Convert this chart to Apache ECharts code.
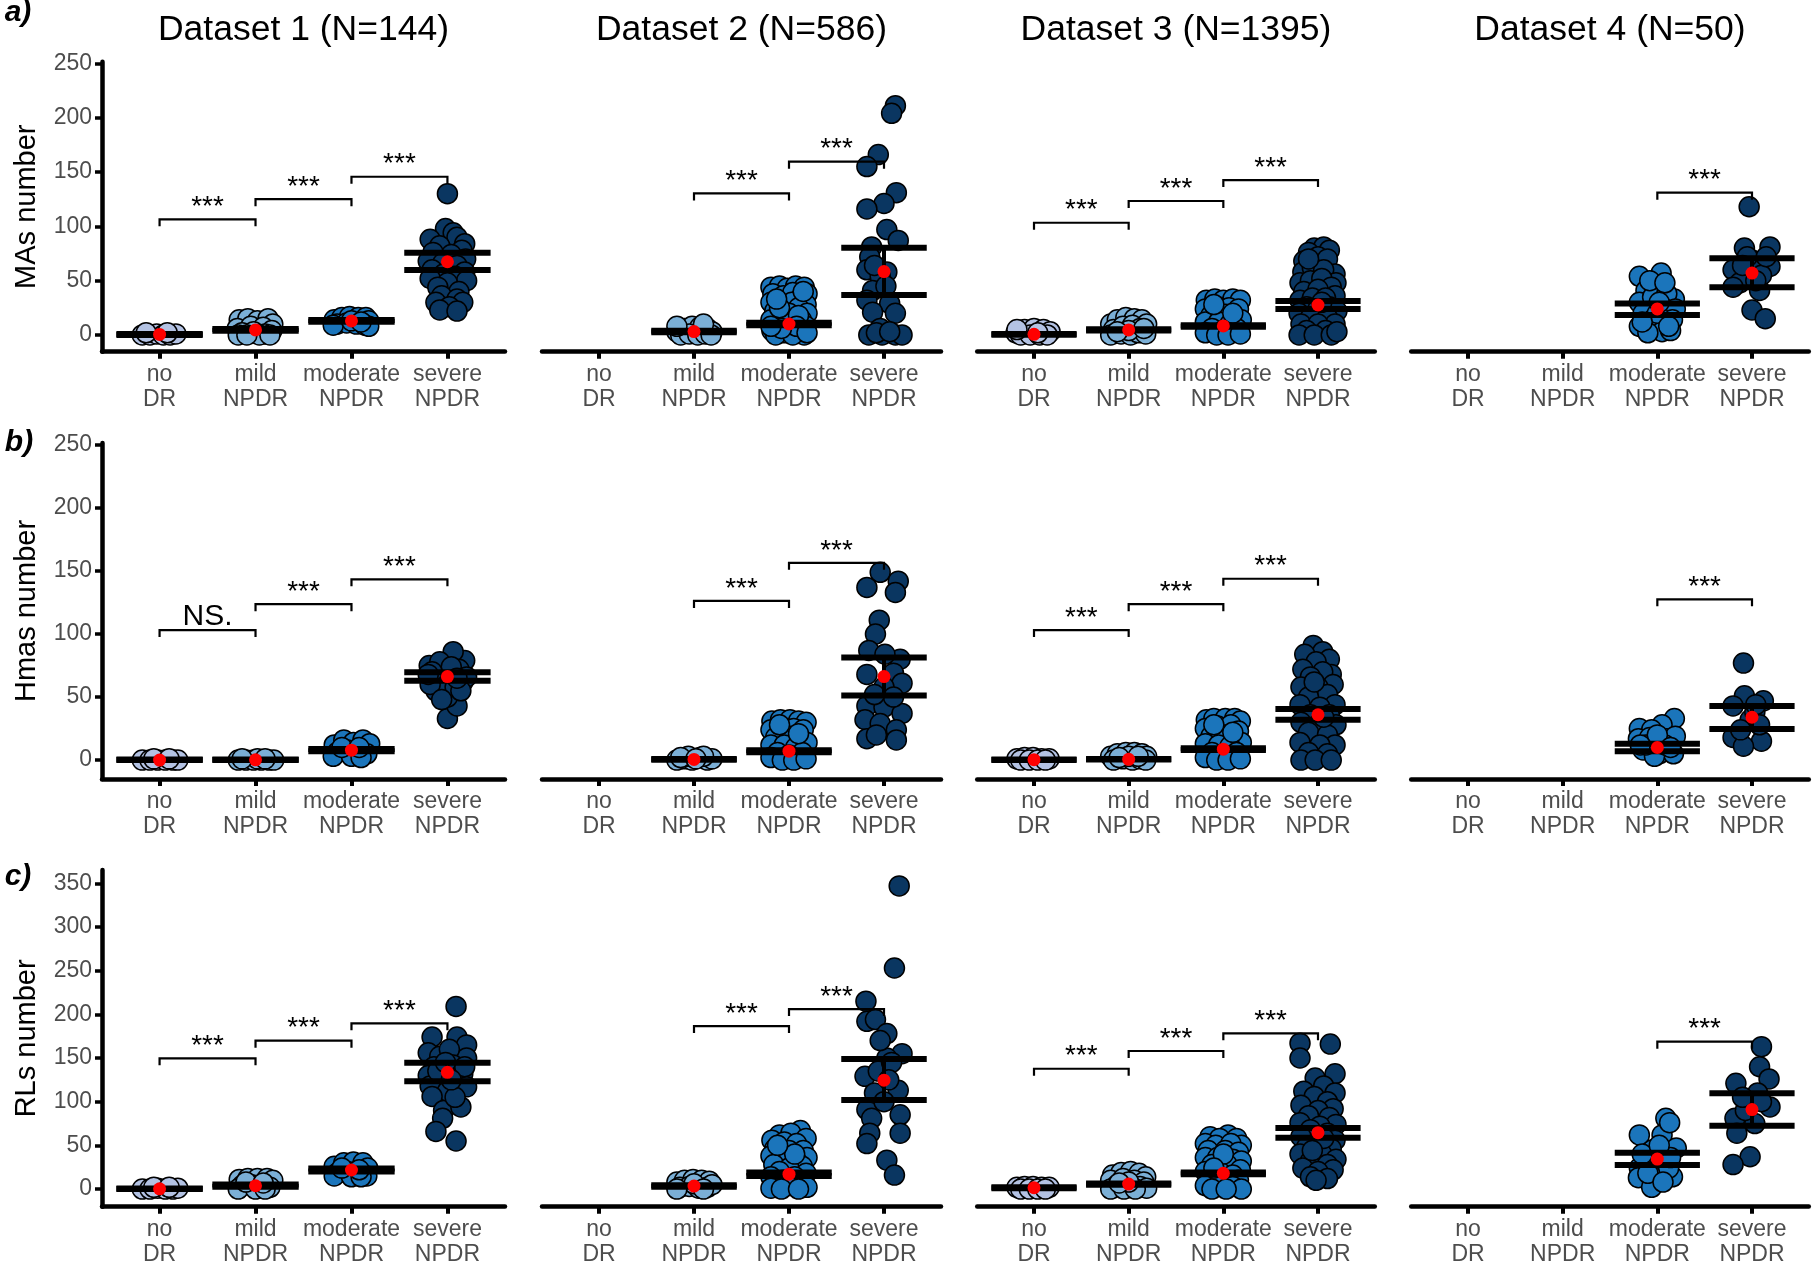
<!DOCTYPE html>
<html><head><meta charset="utf-8">
<script src="https://cdn.jsdelivr.net/npm/echarts@6/dist/echarts.min.js"></script>
<style>html,body{margin:0;padding:0;background:#fff}#c{width:1818px;height:1272px}</style>
</head><body><div id="c"></div>
<script>
// ---------- DATA ----------
const categories = ['no\nDR', 'mild\nNPDR', 'moderate\nNPDR', 'severe\nNPDR'];
const datasetTitles = ['Dataset 1 (N=144)', 'Dataset 2 (N=586)', 'Dataset 3 (N=1395)', 'Dataset 4 (N=50)'];
const rowNames = ['MAs number', 'Hmas number', 'RLs number'];
const rowLetters = ['a)', 'b)', 'c)'];
const yTicks250 = [0, 50, 100, 150, 200, 250];
const yTicks350 = [0, 50, 100, 150, 200, 250, 300, 350];

// points: [jitter offset from category (category units), value]
// Row a: MAs
const MA_D1_noDR = [[-0.18,0],[-0.1,0],[-0.03,1],[0.04,0],[0.11,0],[0.17,1],[-0.14,2],[0.08,2]];
const MA_D1_mild = [[-0.17,14],[-0.08,15],[0.02,13],[0.13,15],[0.18,10],[-0.19,6],[-0.05,8],[0.08,7],[0.17,4],[-0.14,2],[-0.02,3],[0.1,1],[-0.18,0],[0.04,0],[0.15,0],[-0.09,0]];
const MA_D1_mod = [[-0.18,14],[-0.1,16],[-0.02,17],[0.07,16],[0.15,16],[0.18,13],[-0.15,10],[-0.05,11],[0.05,10],[0.14,9],[0.18,8],[-0.19,9],[0,13],[0.1,12]];
const MA_D1_sev = [[0,130],[-0.02,98],[0.06,94],[-0.18,88],[0.1,90],[0.18,84],[-0.08,82],[0.15,78],[-0.15,76],[0.04,74],[-0.2,68],[0.19,70],[-0.05,66],[0.1,64],[-0.16,60],[0.18,58],[-0.04,56],[0.08,54],[-0.18,52],[0.2,50],[0,48],[-0.1,44],[0.12,40],[-0.06,36],[0.1,33],[-0.12,30],[0.16,30],[0.02,26],[-0.08,23],[0.1,22]];
const MA_D1_mean = [0.5, 4.6, 12.9, 67.4];
const MA_D1_lo = [0, 3.8, 12.1, 59.8];
const MA_D1_hi = [1, 5.4, 13.7, 75.7];
const MA_D1_br = [[0,1,106.4,'***'],[1,2,125,'***'],[2,3,145.6,'***']];

const MA_D2_noDR = [];
const MA_D2_mild = [[-0.18,3],[-0.1,6],[-0.02,8],[0.06,7],[0.14,6],[0.19,3],[-0.14,0],[-0.05,1],[0.04,0],[0.12,1],[0.18,0],[-0.18,8],[0.1,10]];
const MA_D2_mod = [[-0.19,44],[-0.1,45],[-0.02,43],[0.07,45],[0.16,44],[0.19,38],[-0.17,38],[-0.06,36],[0.04,39],[0.12,34],[-0.19,30],[0.18,28],[-0.08,28],[0.03,30],[0.1,25],[-0.15,22],[0.19,20],[0,20],[-0.06,15],[0.13,14],[-0.19,14],[0.06,12],[-0.12,9],[0.18,8],[0.02,6],[-0.18,4],[0.1,3],[-0.05,2],[0.16,0],[-0.14,0],[0.04,0],[-0.02,10],[0.1,18],[-0.1,25],[0.15,40],[-0.13,33],[0.08,8],[-0.08,6],[0.19,2],[-0.19,8]];
const MA_D2_sev = [[0.12,211],[0.08,204],[-0.06,166],[-0.18,155],[0.13,131],[0,121],[-0.18,116],[0.03,97],[0.15,87],[-0.13,81],[-0.15,72],[0.03,58],[-0.18,60],[-0.04,54],[-0.12,41],[-0.18,32],[0.06,29],[0.12,20],[-0.12,21],[-0.04,6],[-0.16,0],[-0.02,0],[0.12,0],[0.19,0],[-0.08,2],[0.06,3],[-0.1,64],[0.02,45]];
const MA_D2_mean = [null, 3.1, 10.1, 58.3];
const MA_D2_lo = [null, 2.4, 9, 36.8];
const MA_D2_hi = [null, 3.8, 11.2, 80.3];
const MA_D2_br = [[1,2,130.3,'***'],[2,3,159.5,'***']];

const MA_D3_noDR = [[-0.19,2],[-0.1,5],[0,6],[0.1,5],[0.17,3],[-0.14,0],[-0.04,0],[0.06,0],[0.14,0],[-0.18,5],[0.04,2]];
const MA_D3_mild = [[-0.19,10],[-0.12,14],[-0.03,16],[0.06,15],[0.14,14],[0.19,10],[-0.16,5],[-0.06,8],[0.04,9],[0.12,6],[-0.19,0],[-0.08,1],[0.02,0],[0.1,2],[0.18,1],[0,4],[0.16,6],[-0.12,3]];
const MA_D3_mod = [[-0.18,32],[-0.09,33],[0,32],[0.1,33],[0.18,32],[-0.19,24],[-0.06,26],[0.06,25],[0.16,24],[-0.13,18],[0.02,19],[0.12,17],[0.19,14],[-0.19,12],[-0.05,12],[0.07,10],[-0.12,6],[0.14,6],[0,4],[-0.19,2],[-0.07,0],[0.05,0],[0.18,1],[0.1,20],[-0.1,28]];
const MA_D3_sev = [[-0.04,80],[0.06,81],[0.12,78],[-0.1,76],[-0.15,68],[0,72],[0.1,70],[0.18,56],[-0.16,58],[-0.06,62],[0.06,60],[0.19,48],[-0.19,48],[-0.08,50],[0.04,52],[0.14,44],[-0.15,40],[0,42],[0.18,36],[-0.19,32],[-0.06,34],[0.08,34],[-0.12,26],[0.12,26],[0.2,22],[-0.2,20],[0,24],[-0.08,16],[0.1,16],[-0.18,10],[0.18,10],[0,10],[-0.12,4],[0.08,4],[-0.2,0],[-0.04,0],[0.14,0],[0.2,3],[0.04,30],[-0.1,70]];
const MA_D3_mean = [0.6, 4.6, 8.3, 27.6];
const MA_D3_lo = [0.2, 4, 7.6, 24];
const MA_D3_hi = [1, 5.2, 9, 31.3];
const MA_D3_br = [[0,1,103.3,'***'],[1,2,123.3,'***'],[2,3,142.6,'***']];

const MA_D4_noDR = [];
const MA_D4_mild = [];
const MA_D4_mod = [[-0.19,54],[0.04,57],[-0.12,41],[0,46],[0.18,33],[-0.19,30],[-0.05,35],[0.1,38],[-0.15,20],[0.08,24],[0.19,24],[-0.05,14],[0.16,14],[-0.19,8],[0.05,3],[-0.1,2],[0.14,4],[0,20],[0.12,8],[-0.08,50],[0.08,48],[-0.16,12],[0.02,30]];
const MA_D4_sev = [[-0.03,118],[-0.08,80],[0.19,81],[-0.2,60],[0.19,63],[0,69],[-0.05,72],[-0.13,48],[0.08,41],[0,23],[0.14,15],[-0.2,44],[0.1,55],[-0.1,64],[0.15,72],[0.04,50]];
const MA_D4_mean = [null, null, 24, 57];
const MA_D4_lo = [null, null, 18.4, 43.9];
const MA_D4_hi = [null, null, 29, 70.5];
const MA_D4_br = [[2,3,131,'***']];

// Row b: Hmas
const HM_D1_noDR = [[-0.18,0],[-0.1,0],[-0.02,0],[0.06,0],[0.14,0],[0.19,0],[-0.06,1],[0.1,1]];
const HM_D1_mild = [[-0.18,0],[-0.1,0],[-0.02,0],[0.06,0],[0.14,0],[0.19,0],[0.02,1],[0.1,1],[-0.14,1]];
const HM_D1_mod = [[-0.18,12],[-0.08,16],[0.02,14],[0.12,16],[0.19,13],[-0.15,6],[-0.04,8],[0.06,6],[0.16,5],[-0.19,3],[0,3],[0.1,2],[-0.1,10],[0.08,10]];
const HM_D1_sev = [[0,33],[0.1,43],[0,50],[-0.12,55],[0.18,79],[0.06,86],[-0.19,75],[-0.04,68],[0.12,72],[-0.14,65],[0.16,62],[-0.02,62],[0.08,58],[-0.18,60],[0.2,66],[-0.08,78],[0.04,74],[-0.16,70],[0.14,55],[-0.06,48],[0.1,65],[-0.2,68]];
const HM_D1_mean = [0, 0.2, 7.9, 66.3];
const HM_D1_lo = [0, 0, 7, 63];
const HM_D1_hi = [0.4, 0.5, 8.8, 69.7];
const HM_D1_br = [[0,1,103.2,'NS.'],[1,2,123.7,'***'],[2,3,143.4,'***']];

const HM_D2_noDR = [];
const HM_D2_mild = [[-0.18,0],[-0.1,1],[-0.02,0],[0.06,2],[0.14,0],[0.19,1],[-0.06,3],[0.1,3],[-0.14,2],[0.02,1]];
const HM_D2_mod = [[-0.18,31],[-0.09,32],[0.01,32],[0.1,31],[0.18,30],[-0.19,24],[-0.07,26],[0.05,25],[0.15,24],[-0.14,18],[0.01,19],[0.11,17],[0.19,14],[-0.19,12],[-0.05,12],[0.07,10],[-0.12,6],[0.14,6],[0,4],[-0.19,2],[-0.07,0],[0.05,0],[0.18,1],[0.1,21],[-0.1,28]];
const HM_D2_sev = [[-0.04,149],[0.15,142],[-0.18,137],[0.12,133],[-0.05,111],[-0.09,100],[-0.16,87],[0.17,80],[0.01,84],[-0.18,68],[0.1,69],[0.19,61],[0,58],[-0.18,43],[0,42],[0.19,37],[-0.2,32],[-0.04,29],[0.13,24],[-0.18,17],[-0.08,20],[0.13,16],[0.1,50],[-0.1,52]];
const HM_D2_mean = [null, 0.5, 7.1, 66.3];
const HM_D2_lo = [null, 0.2, 6.3, 51.3];
const HM_D2_hi = [null, 0.8, 7.9, 81.5];
const HM_D2_br = [[1,2,126.3,'***'],[2,3,156.5,'***']];

const HM_D3_noDR = [[-0.18,1],[-0.1,2],[-0.01,2],[0.08,1],[0.16,1],[-0.14,0],[-0.05,0],[0.04,0],[0.12,0]];
const HM_D3_mild = [[-0.19,3],[-0.12,5],[-0.03,6],[0.06,6],[0.14,5],[0.19,3],[-0.16,0],[-0.06,1],[0.04,0],[0.12,1],[0.18,0],[0,3],[-0.1,2],[0.1,3]];
const HM_D3_mod = [[-0.18,32],[-0.1,33],[0.02,33],[0.12,33],[0.18,31],[-0.19,25],[-0.06,27],[0.08,28],[0.16,23],[-0.13,19],[0.02,20],[0.12,17],[0.19,14],[-0.19,13],[-0.05,12],[0.07,11],[-0.12,6],[0.14,6],[0,4],[-0.19,2],[-0.07,0],[0.05,0],[0.18,1],[0.1,22],[-0.1,28]];
const HM_D3_sev = [[-0.05,91],[0.05,86],[-0.14,84],[0.12,80],[-0.02,78],[-0.16,72],[0.14,68],[0.05,70],[-0.08,66],[0.16,60],[-0.18,58],[0,58],[0.1,52],[-0.1,50],[-0.19,44],[0.18,44],[0.02,42],[-0.08,36],[0.12,36],[-0.18,30],[0.19,28],[0,28],[-0.1,22],[0.1,20],[-0.19,14],[0.18,12],[0.02,12],[-0.1,6],[0.1,5],[-0.18,0],[-0.03,0],[0.14,0],[0.06,34],[-0.04,62]];
const HM_D3_mean = [0.3, 0.6, 8.7, 36];
const HM_D3_lo = [0.1, 0.4, 8, 32];
const HM_D3_hi = [0.5, 0.8, 9.4, 40.5];
const HM_D3_br = [[0,1,103.2,'***'],[1,2,123.7,'***'],[2,3,143.9,'***']];

const HM_D4_noDR = [];
const HM_D4_mild = [];
const HM_D4_mod = [[0.18,33],[0.05,28],[-0.19,25],[-0.06,24],[-0.2,17],[-0.08,18],[0.1,17],[0.19,19],[-0.15,8],[0.02,5],[0.17,5],[-0.03,3],[0.08,12],[-0.12,12],[0,20],[0.14,10],[-0.18,12]];
const HM_D4_sev = [[-0.09,77],[-0.08,51],[0.12,47],[-0.2,43],[-0.02,32],[-0.2,18],[0.1,15],[-0.09,11],[0.03,38],[0.08,28],[-0.12,24],[0.04,44]];
const HM_D4_mean = [null, null, 10, 34];
const HM_D4_lo = [null, null, 7, 24.7];
const HM_D4_hi = [null, null, 13, 43];
const HM_D4_br = [[2,3,127.6,'***']];

// Row c: RLs
const RL_D1_noDR = [[-0.18,0],[-0.1,0],[-0.02,1],[0.06,0],[0.14,0],[0.19,1],[-0.06,2],[0.1,2]];
const RL_D1_mild = [[-0.17,11],[-0.08,12],[0.02,12],[0.12,12],[0.18,10],[-0.14,4],[-0.04,5],[0.06,3],[0.15,2],[-0.18,0],[0,0],[0.1,0],[-0.1,8],[0.08,7]];
const RL_D1_mod = [[-0.18,26],[-0.08,30],[0.02,31],[0.12,30],[0.17,24],[-0.15,18],[-0.04,20],[0.06,17],[0.16,15],[-0.18,15],[0,14],[0.1,14],[-0.1,24],[0.08,22]];
const RL_D1_sev = [[0.09,209],[-0.16,174],[0.1,174],[0.2,165],[-0.2,156],[-0.08,152],[0.2,150],[0.02,160],[-0.14,140],[0.06,142],[0.16,132],[-0.2,130],[-0.04,128],[0.12,120],[-0.18,118],[0.2,117],[0,112],[-0.16,106],[-0.04,90],[0.14,94],[-0.05,81],[-0.12,66],[0.09,55],[0.08,105],[-0.1,135],[0.18,140],[-0.02,145],[0.04,125]];
const RL_D1_mean = [0.3, 3.8, 21.8, 133.6];
const RL_D1_lo = [0, 2.5, 20, 123.3];
const RL_D1_hi = [0.7, 5.2, 23.6, 144.6];
const RL_D1_br = [[0,1,149.6,'***'],[1,2,169.8,'***'],[2,3,189.7,'***']];

const RL_D2_noDR = [];
const RL_D2_mild = [[-0.18,8],[-0.1,10],[-0.01,11],[0.08,10],[0.16,9],[-0.15,2],[-0.05,3],[0.05,1],[0.14,2],[0.19,5],[0,6],[-0.18,0],[0.1,0]];
const RL_D2_mod = [[0.12,67],[-0.1,62],[0.02,64],[-0.18,56],[0.18,58],[-0.05,54],[0.08,52],[-0.15,46],[0.15,44],[0,44],[-0.19,38],[0.19,36],[-0.06,34],[0.08,32],[-0.16,28],[0.14,26],[0,24],[-0.1,20],[0.18,18],[-0.19,14],[0.06,14],[-0.06,10],[0.14,8],[-0.15,5],[0.02,4],[0.19,2],[-0.19,1],[-0.08,0],[0.1,0],[0.06,40],[-0.12,50]];
const RL_D2_sev = [[0.16,347],[0.11,253],[-0.19,215],[-0.18,192],[-0.09,194],[0.03,178],[0.19,155],[0.03,150],[-0.2,129],[0.15,113],[-0.18,91],[-0.13,81],[0.17,85],[-0.15,64],[0.17,64],[-0.18,52],[0.03,33],[0.11,16],[-0.06,135],[0.08,145],[-0.1,110],[0,100],[0.05,125],[-0.04,170]];
const RL_D2_mean = [null, 3.4, 17, 124.6];
const RL_D2_lo = [null, 2.5, 15, 101.9];
const RL_D2_hi = [null, 4.3, 19, 148.8];
const RL_D2_br = [[1,2,186.6,'***'],[2,3,206,'***']];

const RL_D3_noDR = [[-0.18,2],[-0.1,3],[-0.01,3],[0.08,2],[0.16,2],[-0.14,0],[-0.05,0],[0.04,0],[0.12,0]];
const RL_D3_mild = [[-0.17,16],[-0.08,19],[0.02,20],[0.11,18],[0.18,14],[-0.19,10],[-0.06,12],[0.06,10],[0.16,8],[-0.13,4],[0.02,5],[0.12,3],[0.19,1],[-0.19,0],[-0.05,0],[0.07,0],[0,8],[-0.1,7]];
const RL_D3_mod = [[-0.14,60],[0.05,62],[-0.04,58],[0.14,58],[-0.19,52],[0.19,50],[-0.08,50],[0.08,52],[-0.16,44],[0.02,44],[0.16,42],[-0.19,36],[-0.06,36],[0.1,34],[0.19,32],[-0.12,28],[0.04,28],[-0.19,20],[0.18,22],[-0.04,20],[0.1,16],[-0.14,12],[0.02,10],[0.16,10],[-0.19,4],[-0.06,4],[0.1,3],[0.19,0],[-0.12,0],[0.03,0],[0,40],[-0.1,24]];
const RL_D3_sev = [[-0.19,167],[0.13,166],[-0.19,150],[0.18,132],[-0.03,127],[0.06,118],[-0.15,112],[0.18,110],[-0.04,106],[0.1,100],[-0.18,96],[0.16,92],[0,90],[-0.1,84],[0.12,82],[-0.19,76],[0.19,74],[0.02,72],[-0.08,68],[0.1,64],[-0.18,60],[0.18,56],[0,54],[-0.12,48],[0.14,46],[-0.19,40],[0.04,40],[0.19,34],[-0.08,32],[0.1,28],[-0.16,24],[0.16,22],[0,20],[-0.08,14],[0.1,12],[-0.02,10],[0.06,58],[-0.06,44]];
const RL_D3_mean = [1.5, 5.7, 18, 64.5];
const RL_D3_lo = [1, 5, 17, 58.8];
const RL_D3_hi = [2, 6.4, 19, 69.8];
const RL_D3_br = [[0,1,137.7,'***'],[1,2,158,'***'],[2,3,178.3,'***']];

const RL_D4_noDR = [];
const RL_D4_mild = [];
const RL_D4_mod = [[0.09,81],[-0.19,62],[0.05,62],[0.13,76],[0.2,47],[-0.05,45],[-0.19,24],[0.02,18],[0.16,14],[-0.2,13],[-0.05,7],[-0.06,2],[0.08,32],[-0.12,32],[0,40],[0.12,24],[-0.1,18],[0.06,8],[0.14,36],[-0.16,40],[0.02,50]];
const RL_D4_sev = [[0.1,163],[0.08,140],[0.18,126],[-0.17,121],[0.06,110],[0.19,94],[-0.18,81],[0.03,75],[-0.16,64],[-0.02,37],[-0.2,28],[-0.07,90],[0.1,100],[-0.1,105]];
const RL_D4_mean = [null, null, 34.3, 91];
const RL_D4_lo = [null, null, 27.5, 72.5];
const RL_D4_hi = [null, null, 41.6, 109.6];
const RL_D4_br = [[2,3,168.7,'***']];

// ---------- LAYOUT / STYLE ----------
const FONT = '"Liberation Sans", Arial, Helvetica, sans-serif';
const groupColors = ['#b3c2e3', '#7bafd6', '#1b75bb', '#0a3661'];
const rowLayout = [
  {top: 61.7, h: 290, min: -15.4, max: 251.5, ticks: yTicks250},
  {top: 443, h: 336, min: -15, max: 251.6, ticks: yTicks250},
  {top: 870, h: 336.7, min: -20.2, max: 365.2, ticks: yTicks350}
];
const colLayout = [
  {left: 102, w: 403}, {left: 542, w: 399}, {left: 977.2, w: 397.6}, {left: 1411.2, w: 397.6}
];

const panels = [
  [MA_D1_noDR, MA_D1_mild, MA_D1_mod, MA_D1_sev, MA_D1_mean, MA_D1_lo, MA_D1_hi, MA_D1_br],
  [MA_D2_noDR, MA_D2_mild, MA_D2_mod, MA_D2_sev, MA_D2_mean, MA_D2_lo, MA_D2_hi, MA_D2_br],
  [MA_D3_noDR, MA_D3_mild, MA_D3_mod, MA_D3_sev, MA_D3_mean, MA_D3_lo, MA_D3_hi, MA_D3_br],
  [MA_D4_noDR, MA_D4_mild, MA_D4_mod, MA_D4_sev, MA_D4_mean, MA_D4_lo, MA_D4_hi, MA_D4_br],
  [HM_D1_noDR, HM_D1_mild, HM_D1_mod, HM_D1_sev, HM_D1_mean, HM_D1_lo, HM_D1_hi, HM_D1_br],
  [HM_D2_noDR, HM_D2_mild, HM_D2_mod, HM_D2_sev, HM_D2_mean, HM_D2_lo, HM_D2_hi, HM_D2_br],
  [HM_D3_noDR, HM_D3_mild, HM_D3_mod, HM_D3_sev, HM_D3_mean, HM_D3_lo, HM_D3_hi, HM_D3_br],
  [HM_D4_noDR, HM_D4_mild, HM_D4_mod, HM_D4_sev, HM_D4_mean, HM_D4_lo, HM_D4_hi, HM_D4_br],
  [RL_D1_noDR, RL_D1_mild, RL_D1_mod, RL_D1_sev, RL_D1_mean, RL_D1_lo, RL_D1_hi, RL_D1_br],
  [RL_D2_noDR, RL_D2_mild, RL_D2_mod, RL_D2_sev, RL_D2_mean, RL_D2_lo, RL_D2_hi, RL_D2_br],
  [RL_D3_noDR, RL_D3_mild, RL_D3_mod, RL_D3_sev, RL_D3_mean, RL_D3_lo, RL_D3_hi, RL_D3_br],
  [RL_D4_noDR, RL_D4_mild, RL_D4_mod, RL_D4_sev, RL_D4_mean, RL_D4_lo, RL_D4_hi, RL_D4_br]
];

const grids = [], xAxes = [], yAxes = [], series = [], graphics = [];

panels.forEach((pn, p) => {
  const r = Math.floor(p / 4), c = p % 4;
  const rl = rowLayout[r], cl = colLayout[c];
  grids.push({left: cl.left, top: rl.top, width: cl.w, height: rl.h, containLabel: false, outerBoundsMode: 'none'});
  xAxes.push({
    gridIndex: p, type: 'value', min: -0.6, max: 3.6,
    axisLine: {show: true, onZero: false, lineStyle: {color: '#000', width: 4.5}},
    axisTick: {show: true, customValues: [0, 1, 2, 3], length: 7, lineStyle: {color: '#000', width: 4}},
    axisLabel: {show: true, customValues: [0, 1, 2, 3], formatter: v => categories[Math.round(v)],
      color: '#4d4d4d', fontSize: 23, fontFamily: FONT, lineHeight: 25, margin: 10},
    splitLine: {show: false}
  });
  yAxes.push({
    gridIndex: p, type: 'value', min: rl.min, max: rl.max, show: c === 0,
    axisLine: {show: true, onZero: false, lineStyle: {color: '#000', width: 4.5}},
    axisTick: {show: true, customValues: rl.ticks, length: 7, lineStyle: {color: '#000', width: 3.5}},
    axisLabel: {show: true, customValues: rl.ticks, color: '#4d4d4d', fontSize: 23, fontFamily: FONT, margin: 10},
    splitLine: {show: false}
  });
  // points
  for (let g = 0; g < 4; g++) {
    const pts = pn[g];
    if (!pts.length) continue;
    series.push({
      type: 'scatter', xAxisIndex: p, yAxisIndex: p, z: 2,
      data: pts.map(d => [g + d[0], d[1]]),
      symbol: 'circle', symbolSize: 20,
      itemStyle: {color: groupColors[g], borderColor: '#000', borderWidth: 1.5, opacity: 1},
      emphasis: {disabled: true}, silent: true
    });
  }
  const mean = pn[4], lo = pn[5], hi = pn[6], br = pn[7];
  const ebData = [], meanData = [];
  for (let g = 0; g < 4; g++) {
    if (mean[g] == null) continue;
    ebData.push([g, lo[g], hi[g]]);
    meanData.push([g, mean[g]]);
  }
  series.push({
    type: 'custom', xAxisIndex: p, yAxisIndex: p, z: 3, silent: true,
    data: ebData, encode: {x: 0, y: [1, 2]},
    renderItem: (params, api) => {
      const i = api.value(0), l = api.value(1), h = api.value(2);
      const a = api.coord([i - 0.45, l]), b = api.coord([i + 0.45, l]);
      const cc = api.coord([i - 0.45, h]), d = api.coord([i + 0.45, h]);
      const m1 = api.coord([i, l]), m2 = api.coord([i, h]);
      return {type: 'group', children: [
        {type: 'line', shape: {x1: m1[0], y1: m1[1], x2: m2[0], y2: m2[1]}, style: {stroke: '#000', lineWidth: 4}},
        {type: 'line', shape: {x1: a[0], y1: a[1], x2: b[0], y2: b[1]}, style: {stroke: '#000', lineWidth: 6}},
        {type: 'line', shape: {x1: cc[0], y1: cc[1], x2: d[0], y2: d[1]}, style: {stroke: '#000', lineWidth: 6}}
      ]};
    }
  });
  series.push({
    type: 'scatter', xAxisIndex: p, yAxisIndex: p, z: 4, silent: true,
    data: meanData, symbol: 'circle', symbolSize: 13,
    itemStyle: {color: '#ff0000', borderWidth: 0, opacity: 1}
  });
  series.push({
    type: 'custom', xAxisIndex: p, yAxisIndex: p, z: 3, silent: true,
    data: br.map(b => [b[0], b[1], b[2]]), encode: {x: [0, 1], y: 2},
    renderItem: (params, api) => {
      const f = api.coord([api.value(0), api.value(2)]);
      const t = api.coord([api.value(1), api.value(2)]);
      const lbl = br[params.dataIndex][3];
      const isNS = lbl === 'NS.';
      return {type: 'group', children: [
        {type: 'polyline', shape: {points: [[f[0], f[1] + 7], [f[0], f[1]], [t[0], t[1]], [t[0], t[1] + 7]]},
          style: {stroke: '#000', lineWidth: 2.2, fill: null}},
        {type: 'text', x: (f[0] + t[0]) / 2, y: f[1] - (isNS ? 13 : 12),
          style: {text: lbl, fill: '#000', font: (isNS ? '30px ' : '28px ') + FONT,
            align: 'center', verticalAlign: 'middle', textAlign: 'center', textVerticalAlign: 'middle'}}
      ]};
    }
  });
});

// titles
datasetTitles.forEach((t, c) => {
  const cl = colLayout[c];
  graphics.push({type: 'text', x: cl.left + cl.w / 2, y: 30, silent: true,
    style: {text: t, fill: '#000', font: '35.5px ' + FONT, align: 'center', verticalAlign: 'middle', textAlign: 'center', textVerticalAlign: 'middle'}});
});
rowNames.forEach((t, r) => {
  const rl = rowLayout[r];
  graphics.push({type: 'text', x: 27, y: rl.top + rl.h / 2, rotation: Math.PI / 2, silent: true,
    style: {text: t, fill: '#000', font: '29px ' + FONT, align: 'center', verticalAlign: 'middle', textAlign: 'center', textVerticalAlign: 'middle'}});
});
const letterPos = [[18, 13], [19, 443], [18, 876.5]];
rowLetters.forEach((t, r) => {
  graphics.push({type: 'text', x: letterPos[r][0], y: letterPos[r][1], silent: true,
    style: {text: t, fill: '#000', font: 'italic bold 30px ' + FONT, align: 'center', verticalAlign: 'middle', textAlign: 'center', textVerticalAlign: 'middle'}});
});

const chart = echarts.init(document.getElementById('c'), null, {renderer: 'canvas'});
chart.setOption({
  backgroundColor: '#fff', animation: false,
  grid: grids, xAxis: xAxes, yAxis: yAxes, series: series, graphic: graphics
});
</script></body></html>
